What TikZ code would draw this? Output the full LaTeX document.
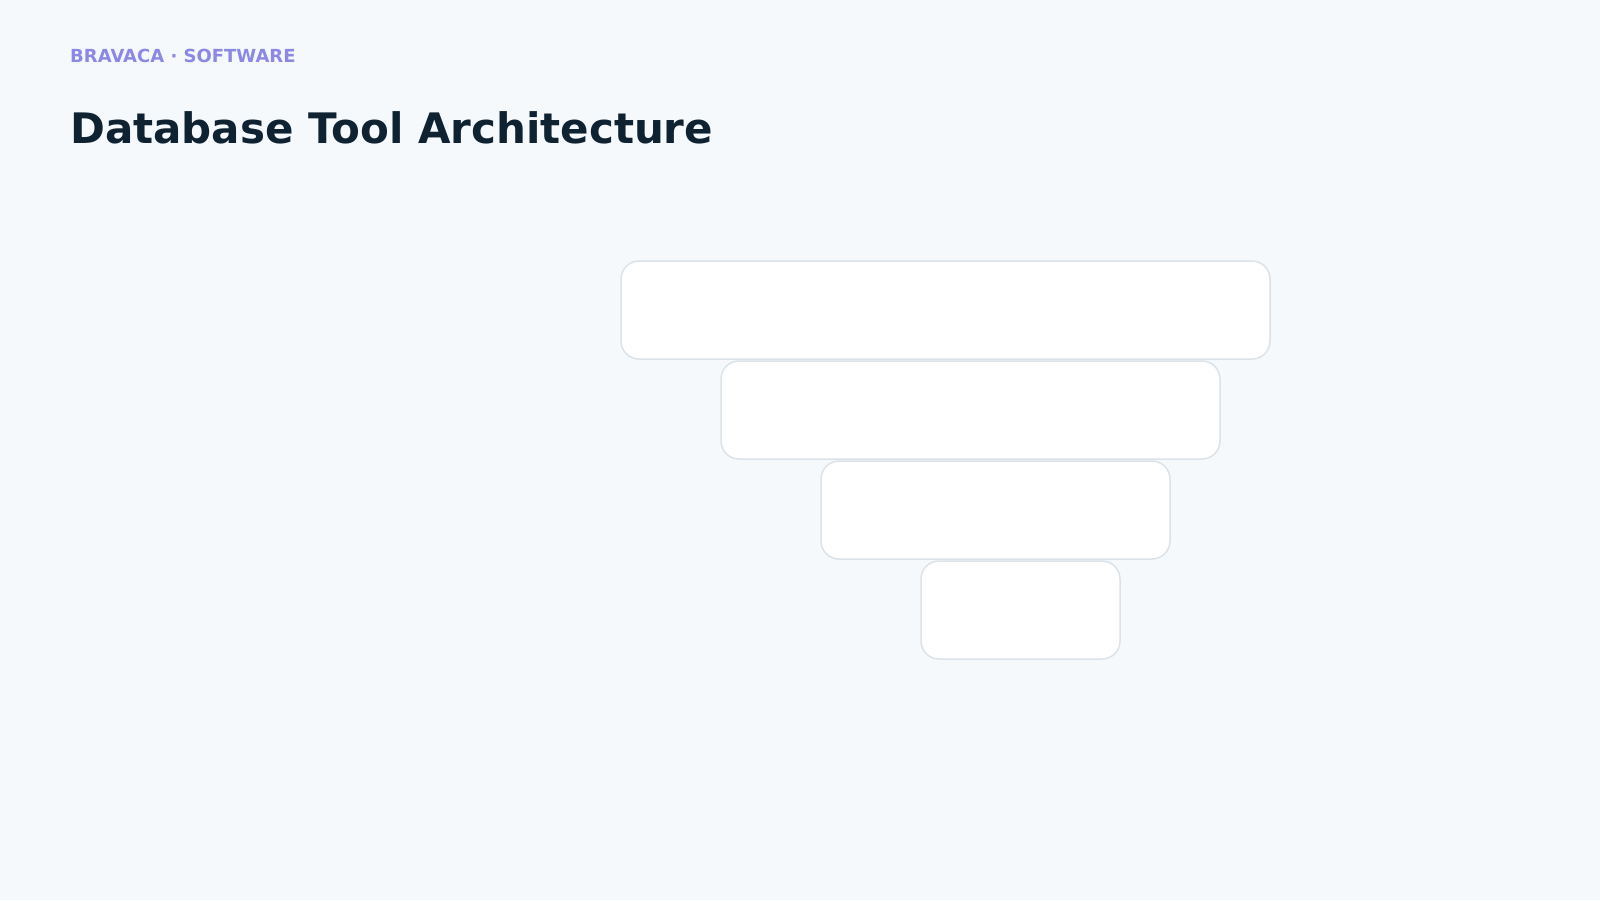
\documentclass[tikz,border=0pt]{standalone}
\usepackage{fontspec}
\setmainfont{DejaVu Sans}
\definecolor{bgc}{HTML}{F5F9FC}
\definecolor{titlec}{HTML}{0F2231}
\definecolor{subc}{HTML}{8B88E6}
\definecolor{edgec}{HTML}{DCE3E8}
\begin{document}
\begin{tikzpicture}[x=1pt,y=-1pt,
  layerbox/.style={draw=edgec, line width=1.5pt, fill=white, rounded corners=18pt, inner sep=0pt, minimum height=98pt}]
\fill[bgc] (0,0) rectangle (1600,900);
\useasboundingbox (0,0) rectangle (1600,900);
\node[anchor=base west, inner sep=0pt, text=subc, font=\bfseries\fontsize{18}{20}\selectfont] (sub) at (70,62) {BRAVACA · SOFTWARE};
\node[anchor=base west, inner sep=0pt, text=titlec, font=\bfseries\fontsize{42}{48}\selectfont] (title) at (70,143.5) {Database Tool Architecture};
\node[layerbox, minimum width=649pt] (l1) at (945.5,310) {};
\node[layerbox, minimum width=499pt] (l2) at (970.5,410) {};
\node[layerbox, minimum width=349pt] (l3) at (995.5,510) {};
\node[layerbox, minimum width=199pt] (l4) at (1020.5,610) {};
\end{tikzpicture}
\end{document}
